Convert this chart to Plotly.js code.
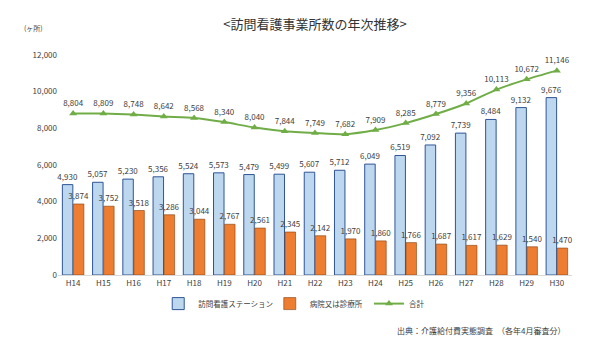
<!DOCTYPE html>
<html><head><meta charset="utf-8">
<script src="https://cdn.plot.ly/plotly-3.0.1.min.js"></script>
<style>html,body{margin:0;padding:0;background:#fff}#c{width:600px;height:343px}</style>
</head><body><div id="c"></div>
<script>
const years = ["H14","H15","H16","H17","H18","H19","H20","H21","H22","H23","H24","H25","H26","H27","H28","H29","H30"];
const stations = [4930,5057,5230,5356,5524,5573,5479,5499,5607,5712,6049,6519,7092,7739,8484,9132,9676];
const clinics = [3874,3752,3518,3286,3044,2767,2561,2345,2142,1970,1860,1766,1687,1617,1629,1540,1470];
const totals = [8804,8809,8748,8642,8568,8340,8040,7844,7749,7682,7909,8285,8779,9356,10113,10672,11146];
const fmt = v => v.toLocaleString('en-US');
const F = '"Noto Sans CJK JP", "Noto Sans", sans-serif';
const traces = [
 {type:'bar', name:'訪問看護ステーション', legend:'legend', x:years, y:stations, text:stations.map(fmt), textposition:'outside',
  constraintext:'none', textfont:{size:8, color:'#404040'}, cliponaxis:false,
  marker:{color:'#BDD7EE', line:{color:'#2F5597', width:1}}},
 {type:'bar', name:'病院又は診療所', legend:'legend2', x:years, y:clinics, text:clinics.map(fmt), textposition:'outside',
  constraintext:'none', textfont:{size:8, color:'#404040'}, cliponaxis:false,
  marker:{color:'#ED7D31', line:{color:'#843C0C', width:0.6}}},
 {type:'scatter', mode:'lines+markers+text', name:'合計', legend:'legend3', x:years, y:totals, text:totals.map(fmt),
  textposition:'top center', textfont:{size:8, color:'#404040'}, cliponaxis:false,
  line:{color:'#70AD47', width:2, shape:'spline', smoothing:0.6},
  marker:{symbol:'triangle-up', size:7, color:'#70AD47'}}
];
const lg = (x) => ({orientation:'h', x:x, xanchor:'left', y:-0.13, yanchor:'middle', font:{size:7.5, color:'#404040', family:F}, itemwidth:30, bgcolor:'rgba(0,0,0,0)'});
const layout = {
 width:600, height:343, margin:{l:58, r:28, t:55, b:68, autoexpand:false},
 paper_bgcolor:'#fff', plot_bgcolor:'#fff',
 font:{family:F, color:'#404040', size:8},
 title:{text:'<訪問看護事業所数の年次推移>', x:0.5, xanchor:'center', xref:'paper', y:0.93, yanchor:'middle', font:{size:13, color:'#333', family:F}},
 barmode:'group', bargap:0.27, bargroupgap:0.05,
 xaxis:{type:'category', range:[-0.5,16.5], autorange:false, showgrid:false, showline:true, linecolor:'#D9D9D9', linewidth:1, ticks:'', tickfont:{size:8, color:'#404040'}},
 yaxis:{range:[0,12000], dtick:2000, tickformat:',d', showgrid:false, zeroline:false, showline:false, ticks:'', tickfont:{size:8, color:'#404040'}},
 showlegend:true,
 legend:lg(0.195), legend2:lg(0.412), legend3:lg(0.605),
 annotations:[
  {text:'(ヶ所)', xref:'paper', yref:'paper', x:-0.07, y:1.09, xanchor:'left', yanchor:'bottom', showarrow:false, font:{size:7, color:'#404040'}},
  {text:'出典：介護給付費実態調査　（各年4月審査分）', xref:'paper', yref:'paper', x:0.99, y:-0.25, xanchor:'right', yanchor:'middle', showarrow:false, font:{size:8, color:'#404040'}}
 ]
};
Plotly.newPlot('c', traces, layout, {displayModeBar:false, staticPlot:true});
</script></body></html>
